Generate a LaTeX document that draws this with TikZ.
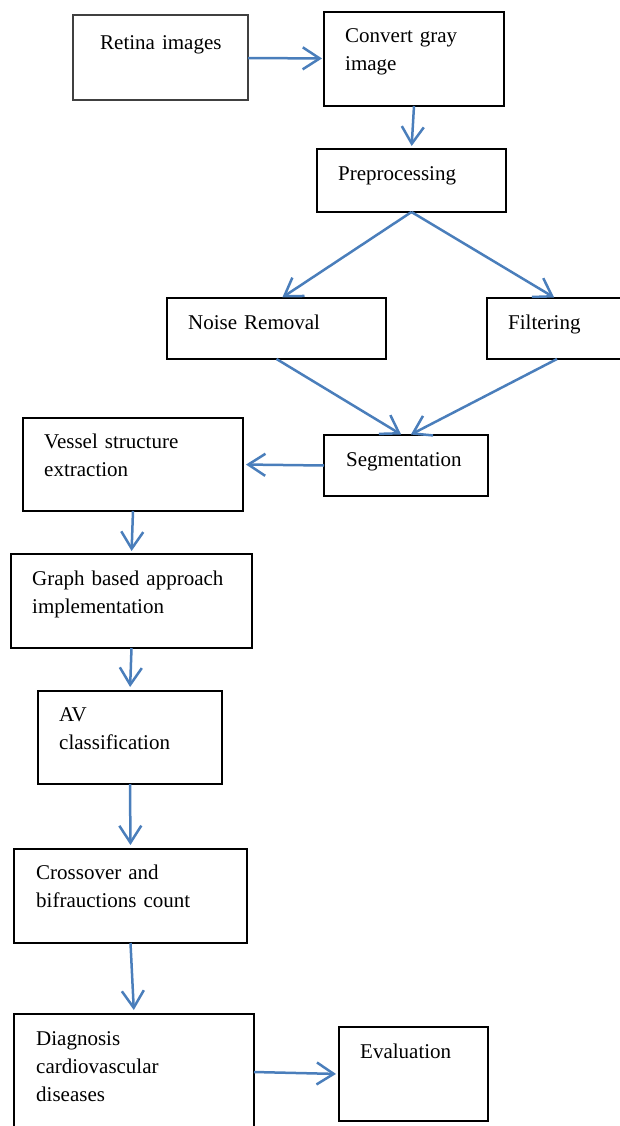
\documentclass[tikz,border=0pt]{standalone}
\usepackage{fontspec}
\setmainfont{Liberation Serif}
\usetikzlibrary{arrows.meta,calc}
\definecolor{arrowblue}{RGB}{74,126,187}
\begin{document}
\begin{tikzpicture}[x=1pt,y=-1pt,
  box/.style={draw=black, line width=1.8pt, rectangle, anchor=north west, inner sep=0pt, outer sep=0pt},
  thinbox/.style={box, draw=black!75, line width=1.1pt},
  txt/.style={anchor=base west, inner sep=0pt, text width=230pt, align=left, font=\fontsize{21}{28}\selectfont},
  arr/.style={draw=arrowblue, line width=2.5pt, -{Straight Barb[length=17pt,width=22pt]}}]
\useasboundingbox (0,0) rectangle (620,1126);
\clip (0,0) rectangle (620,1126);
% boxes
\node[thinbox, minimum width=175pt, minimum height=85pt] (retina) at (73,15) {};
\node[box, minimum width=180pt, minimum height=94pt] (convert) at (324,12) {};
\node[box, minimum width=189pt, minimum height=63pt] (preproc) at (317,149) {};
\node[box, minimum width=219pt, minimum height=61pt] (noise) at (167,298) {};
\node[box, minimum width=140pt, minimum height=61pt] (filter) at (487,298) {};
\node[box, minimum width=164pt, minimum height=61pt] (seg) at (324,435) {};
\node[box, minimum width=220pt, minimum height=93pt] (vessel) at (23,418) {};
\node[box, minimum width=241pt, minimum height=94pt] (graph) at (11,554) {};
\node[box, minimum width=184pt, minimum height=93pt] (av) at (38,691) {};
\node[box, minimum width=233pt, minimum height=94pt] (cross) at (14,849) {};
\node[box, minimum width=240pt, minimum height=116pt] (diag) at (14,1014) {};
\node[box, minimum width=149pt, minimum height=94pt] (eval) at (339,1027) {};
% texts
\node[txt] (retinaT) at (100,50) {Retina images};
\node[txt] (convertT) at (345,43) {Convert gray\\image};
\node[txt] (preprocT) at (338,180) {Preprocessing};
\node[txt] (noiseT) at (188,329) {Noise Removal};
\node[txt] (filterT) at (508,329) {Filtering};
\node[txt] (segT) at (346,466) {Segmentation};
\node[txt] (vesselT) at (44,448) {Vessel structure\\extraction};
\node[txt] (graphT) at (32,585) {Graph based approach\\implementation};
\node[txt] (avT) at (59,721) {AV\\classification};
\node[txt] (crossT) at (36,879) {Crossover and\\bifrauctions count};
\node[txt] (diagT) at (36,1045) {Diagnosis\\cardiovascular\\diseases};
\node[txt] (evalT) at (360,1058) {Evaluation};
% connectors
\draw[arr, shorten >=2pt] (retina) -- (convert);
\draw[arr, shorten >=3pt] (convert.south) -- (preproc.north);
\draw[arr, shorten >=1pt] (preproc.south) -- ([xshift=5pt]noise.north);
\draw[arr, shorten >=1pt] (preproc.south) -- ([xshift=-2pt]filter.north);
\draw[arr, shorten >=1pt] (noise.south) -- ([xshift=-4pt]seg.north);
\draw[arr, shorten >=1pt] (filter.south) -- ([xshift=4pt]seg.north);
\draw[arr, shorten >=3pt] (seg.west) -- (vessel.east);
\draw[arr, shorten >=3pt] (vessel.south) -- (graph.north);
\draw[arr, shorten >=4pt] (graph.south) -- (av.north);
\draw[arr, shorten >=4pt] (av.south) -- (cross.north);
\draw[arr, shorten >=4pt] (cross.south) -- (diag.north);
\draw[arr, shorten >=3pt] (diag.east) -- (eval.west);
\end{tikzpicture}
\end{document}
